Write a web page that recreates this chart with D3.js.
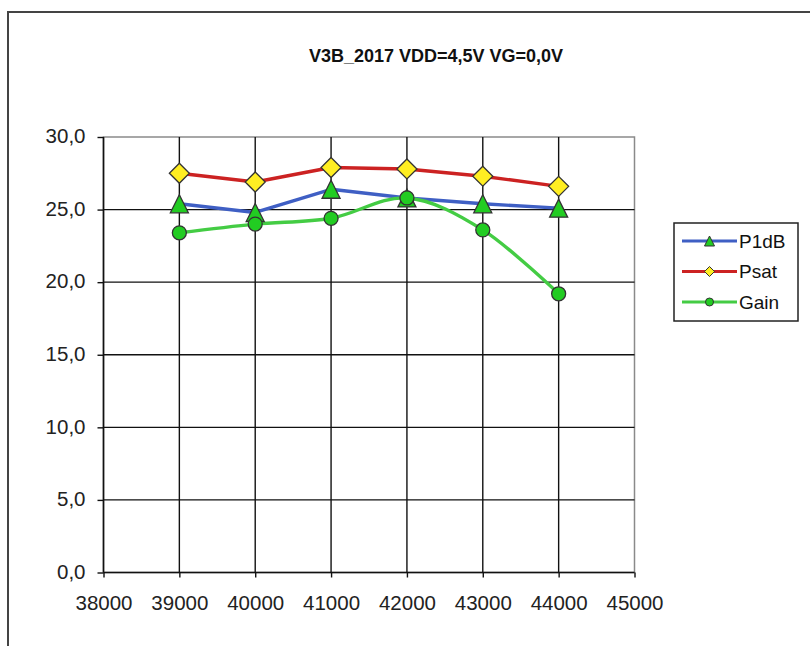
<!DOCTYPE html>
<html>
<head>
<meta charset="utf-8">
<script src="https://cdn.jsdelivr.net/npm/d3@7"></script>
<style>
  html, body { margin: 0; padding: 0; background: #ffffff; }
  svg { display: block; }
</style>
</head>
<body>
<svg id="chart" width="810" height="646"></svg>
<script>
// ---- data ----
const frequencies = [39000, 40000, 41000, 42000, 43000, 44000];
const p1dbValues = [25.4, 24.8, 26.4, 25.8, 25.4, 25.1];
const psatValues = [27.5, 26.9, 27.9, 27.8, 27.3, 26.6];
const gainValues = [23.4, 24.0, 24.4, 25.8, 23.6, 19.2];
const seriesNames = ["P1dB", "Psat", "Gain"];
const xTickValues = [38000, 39000, 40000, 41000, 42000, 43000, 44000, 45000];
const yTickValues = [0, 5, 10, 15, 20, 25, 30];
const chartTitle = "V3B_2017 VDD=4,5V VG=0,0V";

const series = [
  { name: seriesNames[0], values: p1dbValues, color: "#3f5fc4", marker: "triangle", fill: "#22cc22", curve: d3.curveLinear },
  { name: seriesNames[1], values: psatValues, color: "#cc2222", marker: "diamond", fill: "#ffee22", curve: d3.curveLinear },
  { name: seriesNames[2], values: gainValues, color: "#44cc44", marker: "circle", fill: "#22cc22", curve: d3.curveCardinal.tension(0) }
];

const svg = d3.select("#chart");
const font = "'Liberation Sans', Arial, sans-serif";

// chart frame
svg.append("rect")
  .attr("x", 8).attr("y", 12).attr("width", 900).attr("height", 700)
  .attr("fill", "#ffffff").attr("stroke", "#444").attr("stroke-width", 2);

const plot = { left: 103.5, right: 634.5, top: 137, bottom: 572.5 };

const x = d3.scaleLinear().domain([38000, 45000]).range([plot.left, plot.right]);
const y = d3.scaleLinear().domain([0, 30]).range([plot.bottom, plot.top]);

// title
svg.append("text")
  .attr("x", 436).attr("y", 62)
  .attr("text-anchor", "middle")
  .attr("font-family", "'Liberation Sans Narrow', 'Liberation Sans', Arial, sans-serif")
  .attr("font-weight", "bold")
  .attr("font-size", 18)
  .attr("fill", "#111")
  .text(chartTitle);

// plot area border (gray)
svg.append("rect")
  .attr("x", plot.left).attr("y", plot.top)
  .attr("width", plot.right - plot.left).attr("height", plot.bottom - plot.top)
  .attr("fill", "none").attr("stroke", "#8a8a8a").attr("stroke-width", 1.5);

// gridlines
const grid = svg.append("g");
grid.selectAll("line.h").data(yTickValues.filter(v => v > 0 && v < 30)).enter()
  .append("line")
  .attr("x1", plot.left).attr("x2", plot.right)
  .attr("y1", d => y(d)).attr("y2", d => y(d))
  .attr("stroke", "#111").attr("stroke-width", 1.4);
grid.selectAll("line.v").data(xTickValues.filter(v => v > 38000 && v < 45000)).enter()
  .append("line")
  .attr("x1", d => x(d)).attr("x2", d => x(d))
  .attr("y1", plot.top).attr("y2", plot.bottom)
  .attr("stroke", "#111").attr("stroke-width", 1.4);

// axes
const xAxis = d3.axisBottom(x).tickValues(xTickValues).tickSize(5).tickPadding(18)
  .tickFormat(d3.format("d"));
const yAxis = d3.axisLeft(y).tickValues(yTickValues).tickSize(6).tickPadding(12)
  .tickFormat(d => d3.format(".1f")(d).replace(".", ","));

const gx = svg.append("g").attr("transform", `translate(0,${plot.bottom})`).call(xAxis);
const gy = svg.append("g").attr("transform", `translate(${plot.left},0)`).call(yAxis);
[gx, gy].forEach(g => {
  g.select(".domain").attr("stroke", "#111").attr("stroke-width", 1.6);
  g.selectAll(".tick line").attr("stroke", "#111").attr("stroke-width", 1.4);
  g.selectAll(".tick text").attr("font-family", font).attr("font-size", 20.5).attr("fill", "#222");
});
gx.select(".domain").attr("d", `M${plot.left},0H${plot.right}`);
gy.select(".domain").attr("d", `M0,${plot.bottom}V${plot.top}`);
gy.selectAll(".tick text").attr("dy", "0.28em");

// lines
series.forEach(s => {
  const line = d3.line().x((d, i) => x(frequencies[i])).y(d => y(d)).curve(s.curve);
  svg.append("path").datum(s.values)
    .attr("d", line)
    .attr("fill", "none").attr("stroke", s.color).attr("stroke-width", 3.4)
    .attr("stroke-linejoin", "round");
});

function markerPath(type, size) {
  if (type === "triangle") {
    const h = size, w = size;
    return `M0,${-h / 2}L${w / 2},${h / 2}L${-w / 2},${h / 2}Z`;
  }
  if (type === "diamond") {
    const r = size / 2;
    return `M0,${-r}L${r},0L0,${r}L${-r},0Z`;
  }
  const r = size / 2;
  return d3.arc()({ innerRadius: 0, outerRadius: r, startAngle: 0, endAngle: 2 * Math.PI });
}

// markers
series.forEach(s => {
  const size = s.marker === "triangle" ? 18 : (s.marker === "diamond" ? 20 : 14);
  svg.append("g").selectAll("path").data(s.values).enter()
    .append("path")
    .attr("transform", (d, i) => `translate(${x(frequencies[i])},${y(d)})`)
    .attr("d", markerPath(s.marker, size))
    .attr("fill", s.fill).attr("stroke", "#333").attr("stroke-width", 1.3);
});

// legend
const legend = svg.append("g");
legend.append("rect")
  .attr("x", 674).attr("y", 223).attr("width", 124).attr("height", 98)
  .attr("fill", "#fff").attr("stroke", "#222").attr("stroke-width", 1.5);
series.forEach((s, i) => {
  const ly = 241 + i * 30.5;
  const g = legend.append("g");
  g.append("line").attr("x1", 682).attr("x2", 737).attr("y1", ly).attr("y2", ly)
    .attr("stroke", s.color).attr("stroke-width", 3);
  const size = s.marker === "triangle" ? 10 : (s.marker === "diamond" ? 10 : 8);
  g.append("path").attr("transform", `translate(709.5,${ly})`)
    .attr("d", markerPath(s.marker, size))
    .attr("fill", s.fill).attr("stroke", "#333").attr("stroke-width", 1);
  g.append("text").attr("x", 739).attr("y", ly).attr("dy", "0.36em")
    .attr("font-family", font).attr("font-size", 19).attr("fill", "#111")
    .text(s.name);
});
</script>
</body>
</html>
